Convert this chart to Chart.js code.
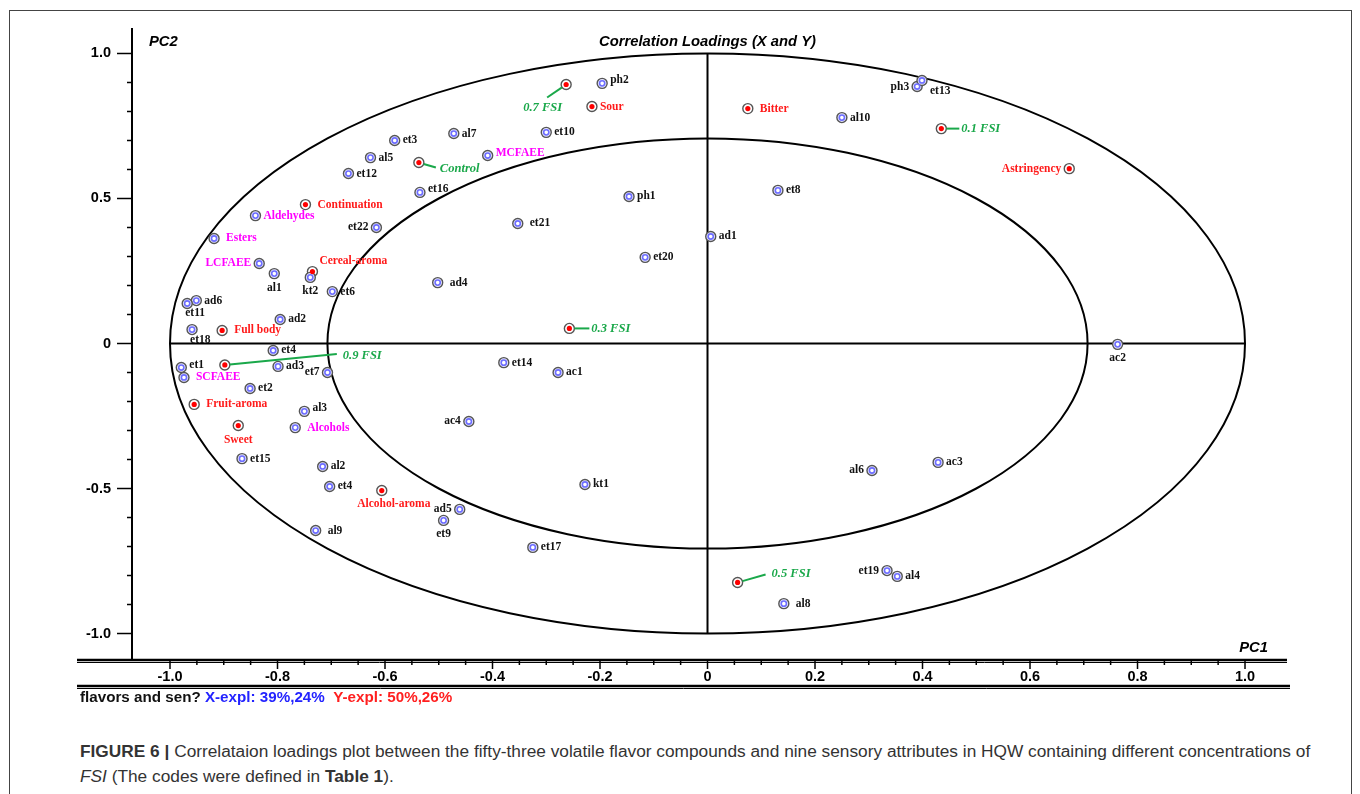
<!DOCTYPE html>
<html>
<head>
<meta charset="utf-8">
<script src="https://cdn.jsdelivr.net/npm/chart.js@4.4.0/dist/chart.umd.min.js"></script>
<style>
  html, body { margin: 0; padding: 0; background: #fff; width: 1360px; height: 794px; overflow: hidden; }
  #frame { position: absolute; left: 9px; top: 10px; width: 1343px; height: 800px; border: 1px solid #444; box-sizing: border-box; }
  #chart { position: absolute; left: 0; top: 0; }
  #caption { position: absolute; left: 80px; top: 739px; font: 17.3px "Liberation Sans", Arial, sans-serif; color: #333; line-height: 25px; white-space: nowrap; }
</style>
</head>
<body>
<div id="frame"></div>
<canvas id="chart" width="1360" height="720"></canvas>
<div id="caption"><b>FIGURE 6 |</b> Correlataion loadings plot between the fifty-three volatile flavor compounds and nine sensory attributes in HQW containing different concentrations of<br><i>FSI</i> (The codes were defined in <b>Table 1</b>).</div>
<script>
// volatile compounds (blue markers, black labels)
const compoundNames = ["et3", "al5", "et12", "al7", "et10", "ph2", "et16", "et22", "al1", "kt2", "et6", "ad6", "et11", "ad2", "et18", "et4", "et1", "ad3", "et7", "et2", "al3", "et15", "al2", "et4", "al9", "ad5", "et9", "et17", "ph1", "et21", "et20", "ad4", "et14", "ac1", "ac4", "kt1", "ad1", "et8", "al10", "ph3", "et13", "ac2", "al6", "ac3", "et19", "al4", "al8"];
const compoundX = [-0.582, -0.627, -0.668, -0.472, -0.300, -0.196, -0.535, -0.616, -0.806, -0.739, -0.698, -0.951, -0.968, -0.795, -0.959, -0.808, -0.979, -0.799, -0.707, -0.851, -0.750, -0.866, -0.716, -0.703, -0.729, -0.461, -0.491, -0.325, -0.146, -0.353, -0.116, -0.502, -0.379, -0.278, -0.444, -0.228, 0.006, 0.131, 0.250, 0.390, 0.399, 0.763, 0.306, 0.429, 0.334, 0.353, 0.142];
const compoundY = [0.700, 0.641, 0.586, 0.724, 0.728, 0.897, 0.521, 0.400, 0.241, 0.228, 0.179, 0.148, 0.138, 0.083, 0.048, -0.024, -0.083, -0.079, -0.100, -0.155, -0.234, -0.397, -0.424, -0.493, -0.645, -0.572, -0.610, -0.703, 0.507, 0.414, 0.297, 0.210, -0.066, -0.100, -0.269, -0.486, 0.369, 0.528, 0.779, 0.886, 0.907, -0.003, -0.438, -0.410, -0.783, -0.803, -0.897];

// compound groups (blue markers, magenta labels)
const groupNames = ["MCFAEE", "Aldehydes", "Esters", "LCFAEE", "SCFAEE", "Alcohols"];
const groupX = [-0.409, -0.841, -0.918, -0.834, -0.974, -0.767];
const groupY = [0.648, 0.441, 0.362, 0.276, -0.117, -0.290];

// sensory attributes (red markers, red labels)
const sensoryNames = ["Sour", "Continuation", "Cereal-aroma", "Full body", "Fruit-aroma", "Sweet", "Alcohol-aroma", "Bitter", "Astringency"];
const sensoryX = [-0.215, -0.748, -0.735, -0.903, -0.955, -0.873, -0.606, 0.075, 0.673];
const sensoryY = [0.817, 0.479, 0.248, 0.045, -0.210, -0.283, -0.507, 0.810, 0.603];

// wine samples (red markers, green labels)
const sampleNames = ["Control", "0.1 FSI", "0.3 FSI", "0.5 FSI", "0.7 FSI", "0.9 FSI"];
const sampleX = [-0.537, 0.435, -0.257, 0.056, -0.263, -0.898];
const sampleY = [0.624, 0.741, 0.052, -0.824, 0.893, -0.074];

const xTickLabels = ["-1.0", "-0.8", "-0.6", "-0.4", "-0.2", "0", "0.2", "0.4", "0.6", "0.8", "1.0"];
const yTickLabels = ["1.0", "0.5", "0", "-0.5", "-1.0"];

// label placement (pixels): side code -> [dx, dy, align]
const SIDES = {
    r: [8, 0, "left"], R: [12, 0, "left"], l: [-8, 0, "right"],
    b: [0, 14, "center"], bR: [12, 13, "center"], bl: [-2, 10, "left"],
    br: [8, 11, "left"], ar: [7, -11, "left"], u: [8, -3, "left"]
};
const compoundSide = ["r", "r", "r", "r", "r", "u", "u", "l", "b", "b", "r", "r", "bl", "r", "bl", "r", "u", "r", "l", "r", "u", "r", "r", "r", "R", "l", "b", "r", "r", "R", "r", "R", "r", "r", "l", "r", "r", "r", "r", "l", "br", "b", "l", "r", "l", "r", "R"];
const groupSide = ["u", "r", "R", "l", "R", "R"];
const sensorySide = ["r", "R", "ar", "R", "R", "b", "bR", "R", "l"];
// green sample labels: leader end [dx, dy], text anchor [dx, dy, align]
const sampleLeader = [[17, 5], [18, 0], [20, 0], [28, -8], [-19, 13], [112, -11]];
const sampleText = [[21, 6, "left"], [20, 0, "left"], [22, 0, "left"], [34, -9, "left"], [-4, 23, "right"], [118, -9, "left"]];

const pts = (xs, ys) => xs.map((x, i) => ({ x: x, y: ys[i] }));
const bluePts = pts(compoundX.concat(groupX), compoundY.concat(groupY));
const redPts = pts(sensoryX.concat(sampleX), sensoryY.concat(sampleY));

const loadingsPlugin = {
    id: "loadings",
    beforeDatasetsDraw(chart) {
        const ctx = chart.ctx, xs = chart.scales.x, ys = chart.scales.y;
        const cx = xs.getPixelForValue(0), cy = ys.getPixelForValue(0);
        const rx = xs.getPixelForValue(1) - cx, ry = cy - ys.getPixelForValue(1);
        ctx.save();
        ctx.strokeStyle = "#000";
        ctx.lineWidth = 2;
        [1, Math.SQRT1_2].forEach(r => {
            ctx.beginPath();
            ctx.ellipse(cx, cy, rx * r, ry * r, 0, 0, Math.PI * 2);
            ctx.stroke();
        });
        ctx.beginPath();
        ctx.moveTo(cx - rx, cy); ctx.lineTo(cx + rx, cy);
        ctx.moveTo(cx, cy - ry); ctx.lineTo(cx, cy + ry);
        ctx.stroke();
        ctx.restore();
    },
    afterDatasetsDraw(chart) {
        const ctx = chart.ctx, xs = chart.scales.x, ys = chart.scales.y;
        const area = chart.chartArea;
        const px = v => xs.getPixelForValue(v), py = v => ys.getPixelForValue(v);
        ctx.save();
        ctx.textBaseline = "middle";

        const drawLabels = (names, X, Y, sides, color, font) => {
            ctx.fillStyle = color;
            ctx.font = font;
            names.forEach((n, i) => {
                const s = SIDES[sides[i]];
                ctx.textAlign = s[2];
                ctx.fillText(n, px(X[i]) + s[0], py(Y[i]) + s[1]);
            });
        };
        const serif = "bold 11.5px 'Liberation Serif', 'Times New Roman', serif";
        drawLabels(compoundNames, compoundX, compoundY, compoundSide, "#111", serif);
        drawLabels(groupNames, groupX, groupY, groupSide, "#ff00ff", serif);
        drawLabels(sensoryNames, sensoryX, sensoryY, sensorySide, "#ff1a1a", serif);

        // samples with green leader lines
        ctx.strokeStyle = "#1aa84a";
        ctx.fillStyle = "#1aa84a";
        ctx.lineWidth = 2;
        ctx.font = "italic bold 12.5px 'Liberation Serif', 'Times New Roman', serif";
        sampleNames.forEach((n, i) => {
            const x0 = px(sampleX[i]), y0 = py(sampleY[i]);
            const dir = Math.atan2(sampleLeader[i][1], sampleLeader[i][0]);
            ctx.beginPath();
            ctx.moveTo(x0 + 5 * Math.cos(dir), y0 + 5 * Math.sin(dir));
            ctx.lineTo(x0 + sampleLeader[i][0], y0 + sampleLeader[i][1]);
            ctx.stroke();
            ctx.textAlign = sampleText[i][2];
            ctx.fillText(n, x0 + sampleText[i][0], y0 + sampleText[i][1]);
        });

        // axes
        ctx.strokeStyle = "#000";
        ctx.fillStyle = "#000";
        const left = area.left, axisY = area.bottom + 3;
        ctx.lineWidth = 2;
        ctx.beginPath();
        ctx.moveTo(left, area.top); ctx.lineTo(left, axisY);
        ctx.stroke();
        ctx.lineWidth = 1.5;
        for (let k = -10; k <= 10; k++) {
            const y = py(k / 10), major = k % 5 === 0;
            ctx.beginPath();
            ctx.moveTo(left - (major ? 15 : 5), y); ctx.lineTo(left, y);
            ctx.stroke();
        }
        ctx.font = "bold 14.5px 'Liberation Sans', Arial, sans-serif";
        ctx.textAlign = "right";
        yTickLabels.forEach((t, i) => ctx.fillText(t, left - 21, py(1 - i * 0.5)));

        ctx.lineWidth = 2.5;
        ctx.beginPath();
        ctx.moveTo(77, axisY); ctx.lineTo(1287, axisY);
        ctx.stroke();
        ctx.lineWidth = 1;
        ctx.beginPath();
        ctx.moveTo(77, axisY + 2.5); ctx.lineTo(1287, axisY + 2.5);
        ctx.stroke();
        ctx.lineWidth = 1.5;
        for (let k = -20; k <= 20; k++) {
            const x = px(k / 20), major = k % 4 === 0;
            ctx.beginPath();
            ctx.moveTo(x, axisY); ctx.lineTo(x, axisY + (major ? 9 : 5));
            ctx.stroke();
        }
        ctx.textAlign = "center";
        xTickLabels.forEach((t, i) => ctx.fillText(t, px(-1 + i * 0.2), axisY + 17));

        ctx.lineWidth = 2.5;
        ctx.beginPath();
        ctx.moveTo(77, axisY + 26); ctx.lineTo(1290, axisY + 26);
        ctx.stroke();
        ctx.lineWidth = 1;
        ctx.beginPath();
        ctx.moveTo(77, axisY + 28.5); ctx.lineTo(1290, axisY + 28.5);
        ctx.stroke();

        // titles
        ctx.font = "italic bold 14.8px 'Liberation Sans', Arial, sans-serif";
        ctx.textAlign = "center";
        ctx.fillText("Correlation Loadings (X and Y)", px(0), 42);
        ctx.textAlign = "left";
        ctx.fillText("PC2", left + 17, 42);
        ctx.textAlign = "right";
        ctx.fillText("PC1", 1268, 648);

        // footer
        ctx.font = "bold 15.2px 'Liberation Sans', Arial, sans-serif";
        ctx.textAlign = "left";
        let fx = 80;
        [["flavors and sen? ", "#111"], ["X-expl: 39%,24%  ", "#2323ff"], ["Y-expl: 50%,26%", "#ff1f1f"]].forEach(p => {
            ctx.fillStyle = p[1];
            ctx.fillText(p[0], fx, 698);
            fx += ctx.measureText(p[0]).width;
        });
        ctx.restore();
    }
};

new Chart(document.getElementById("chart"), {
    type: "scatter",
    data: {
        datasets: [
            { label: "blue inner", data: bluePts, pointRadius: 2.6, borderColor: "#6e6eff", borderWidth: 1.6, backgroundColor: "#fff" },
            { label: "red inner", data: redPts, pointRadius: 2.6, borderWidth: 0, backgroundColor: "#ff0000" },
            { label: "blue ring", data: bluePts, pointRadius: 5, borderColor: "#555", borderWidth: 1.4, backgroundColor: "#e8e8ff" },
            { label: "red ring", data: redPts, pointRadius: 5, borderColor: "#555", borderWidth: 1.4, backgroundColor: "#fff" }
        ]
    },
    options: {
        responsive: false,
        animation: false,
        events: [],
        layout: { padding: { left: 132, right: 70, top: 28, bottom: 63 } },
        scales: {
            x: { type: "linear", display: false, min: -1.0707, max: 1.0837 },
            y: { type: "linear", display: false, min: -1.081, max: 1.0879 }
        },
        plugins: { legend: { display: false }, tooltip: { enabled: false } }
    },
    plugins: [loadingsPlugin]
});
</script>
</body>
</html>
